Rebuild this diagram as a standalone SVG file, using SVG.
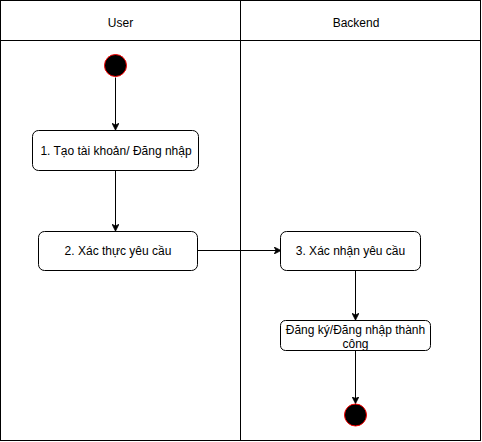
<svg xmlns="http://www.w3.org/2000/svg" width="482" height="442" viewBox="0 0 482 442">
  <style>
    .lane { fill: #ffffff; stroke: #000000; stroke-width: 1; }
    .box { fill: #ffffff; stroke: #000000; stroke-width: 1; }
    .dot { fill: #000000; stroke: #ff0000; stroke-width: 1; }
    .lbl { font-family: "Liberation Sans", Arial, sans-serif; font-size: 12px; fill: #000000; text-anchor: middle; dominant-baseline: central; }
    .edge { fill: none; stroke: #000000; stroke-width: 1; }
  </style>
  <defs>
    <marker id="arrow" viewBox="0 0 10 10" refX="9" refY="5" markerWidth="7" markerHeight="7" orient="auto" markerUnits="userSpaceOnUse">
      <path d="M0,0 L10,5 L0,10 L2.5,5 Z" fill="#000000" stroke="#000000" stroke-width="1"/>
    </marker>
  </defs>

  <rect width="482" height="442" fill="#ffffff"/>

  <!-- swimlanes -->
  <g id="lane-user">
    <rect class="lane" x="0.5" y="0.5" width="240" height="440"/>
    <line class="lane" x1="0.5" y1="40.5" x2="240.5" y2="40.5"/>
    <text class="lbl" x="120.5" y="23">User</text>
  </g>
  <g id="lane-backend">
    <rect class="lane" x="240.5" y="0.5" width="240" height="440"/>
    <line class="lane" x1="240.5" y1="40.5" x2="480.5" y2="40.5"/>
    <text class="lbl" x="356" y="23">Backend</text>
  </g>

  <!-- connectors -->
  <g id="edges">
    <path class="edge" d="M115.5,77.5 V129.5" marker-end="url(#arrow)"/>
    <path class="edge" d="M115.5,170.5 V230.5" marker-end="url(#arrow)"/>
    <path class="edge" d="M197.5,250.5 H280.5" marker-end="url(#arrow)"/>
    <path class="edge" d="M355.5,270.5 V319.5" marker-end="url(#arrow)"/>
    <path class="edge" d="M355.5,350.5 V403" marker-end="url(#arrow)"/>
  </g>

  <!-- nodes -->
  <g id="start">
    <circle class="dot" cx="115.5" cy="65.5" r="11"/>
  </g>
  <g id="step1">
    <rect class="box" x="32.5" y="130.5" width="166" height="40" rx="6"/>
    <text class="lbl" x="116" y="151">1. Tạo tài khoản/ Đăng nhập</text>
  </g>
  <g id="step2">
    <rect class="box" x="38.5" y="231.5" width="159" height="39" rx="6"/>
    <text class="lbl" x="118" y="251">2. Xác thực yêu cầu</text>
  </g>
  <g id="step3">
    <rect class="box" x="280.5" y="231.5" width="140" height="39" rx="6"/>
    <text class="lbl" x="350.5" y="251">3. Xác nhận yêu cầu</text>
  </g>
  <g id="step4">
    <rect class="box" x="280.5" y="320.5" width="150" height="30" rx="5"/>
    <text class="lbl" x="355.5" y="329.5">Đăng ký/Đăng nhập thành</text>
    <text class="lbl" x="355.5" y="343.5">công</text>
  </g>
  <g id="end">
    <circle class="dot" cx="355.5" cy="415" r="11"/>
  </g>
</svg>
